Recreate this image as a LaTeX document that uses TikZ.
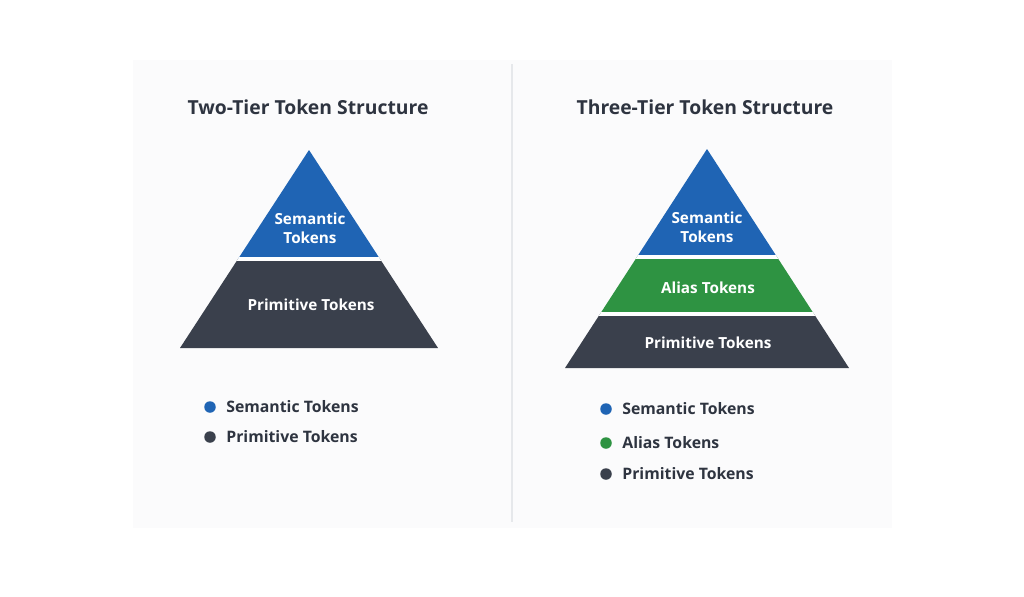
\documentclass[tikz,border=0pt]{standalone}
\usepackage{fontspec}
\setmainfont{Open Sans}

\definecolor{semblue}{HTML}{1F64B4}
\definecolor{aliasgreen}{HTML}{2E9342}
\definecolor{primdark}{HTML}{3A404C}
\definecolor{titlegray}{HTML}{2E3440}
\definecolor{panelbg}{HTML}{FBFBFC}
\definecolor{dividergray}{HTML}{E6E8EB}

\tikzset{
  paneltitle/.style={font=\bfseries\fontsize{11}{13}\selectfont, text=titlegray},
  tierlabel/.style={font=\bfseries\fontsize{8.7}{10.6}\selectfont, text=white, align=center},
  legendtext/.style={font=\bfseries\fontsize{9}{11}\selectfont, text=titlegray, anchor=west, inner sep=0pt},
  legenddot/.style={circle, inner sep=0pt, minimum size=0.23cm},
  tiergap/.style={white, line width=1.8pt}
}

\begin{document}
\begin{tikzpicture}[x=0.02cm, y=-0.02cm]
\useasboundingbox (0,0) rectangle (1024,596);

%--- Background panel and divider ---
\fill[panelbg] (133,60) rectangle (892,528);
\draw[dividergray, line width=0.6pt] (512,64) -- (512,522);

%--- Two-tier pyramid ---
\node[paneltitle] (lefttitle) at (308,107) {Two-Tier Token Structure};
\begin{scope}
  \clip (309,150) -- (438,348) -- (180,348) -- cycle; % pyramid outline
  \fill[semblue] (150,140) rectangle (470,259);
  \fill[primdark] (150,259) rectangle (470,360);
  \draw[tiergap] (150,259) -- (470,259);
\end{scope}
\node[tierlabel] (leftsem) at (310,228) {Semantic\\Tokens};
\node[tierlabel] (leftprim) at (311,305) {Primitive Tokens};

% Legend
\node[legenddot, fill=semblue] (leftdot1) at (210,407) {};
\node[legendtext] (leftleg1) at (226,407) {Semantic Tokens};
\node[legenddot, fill=primdark] (leftdot2) at (210,437) {};
\node[legendtext] (leftleg2) at (226,437) {Primitive Tokens};

%--- Three-tier pyramid ---
\node[paneltitle] (righttitle) at (705,107) {Three-Tier Token Structure};
\begin{scope}
  \clip (707,149) -- (849,368) -- (565,368) -- cycle; % pyramid outline
  \fill[semblue] (540,140) rectangle (880,257);
  \fill[aliasgreen] (540,257) rectangle (880,314);
  \fill[primdark] (540,314) rectangle (880,380);
  \draw[tiergap] (540,257) -- (880,257);
  \draw[tiergap] (540,314) -- (880,314);
\end{scope}
\node[tierlabel] (rightsem) at (707,227) {Semantic\\Tokens};
\node[tierlabel] (rightalias) at (708,288) {Alias Tokens};
\node[tierlabel] (rightprim) at (708,343) {Primitive Tokens};

% Legend
\node[legenddot, fill=semblue] (rightdot1) at (606,409) {};
\node[legendtext] (rightleg1) at (622,409) {Semantic Tokens};
\node[legenddot, fill=aliasgreen] (rightdot2) at (606,443) {};
\node[legendtext] (rightleg2) at (622,443) {Alias Tokens};
\node[legenddot, fill=primdark] (rightdot3) at (606,474) {};
\node[legendtext] (rightleg3) at (622,474) {Primitive Tokens};

\end{tikzpicture}
\end{document}
